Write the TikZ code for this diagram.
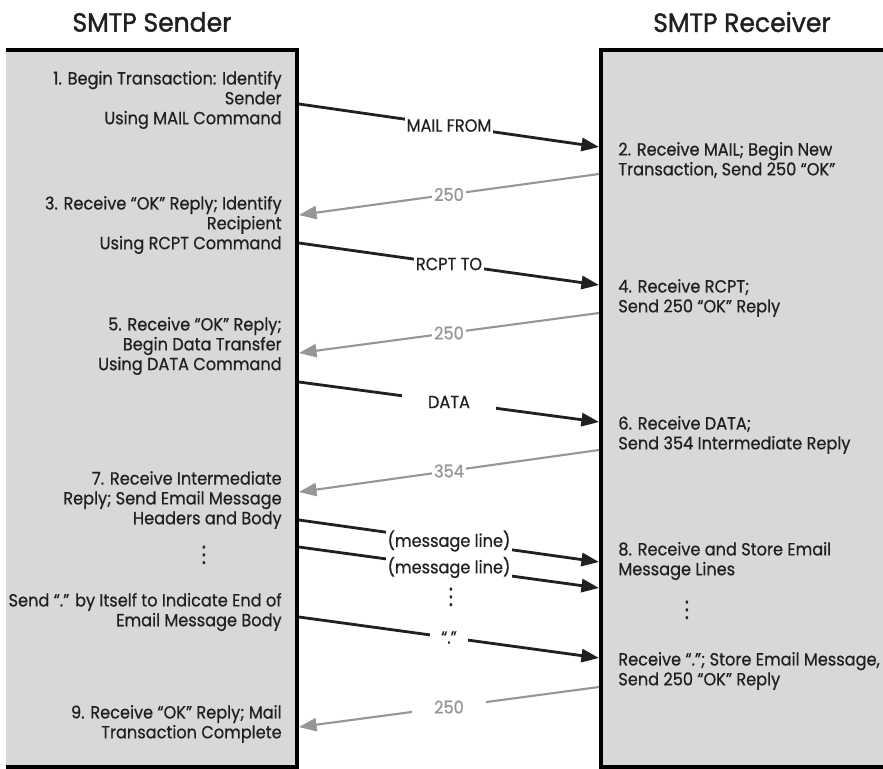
\documentclass[tikz,border=0pt]{standalone}
\usepackage{fontspec}
\setmainfont[FakeStretch=0.92, FakeBold=0.6]{Poppins}
\newfontfamily\titlefont[FakeStretch=0.95, FakeBold=1.4]{Poppins}
\newfontfamily\dotfont{DejaVu Sans}
\usepackage{tikz}
\usetikzlibrary{arrows.meta, positioning}
\definecolor{panelgray}{RGB}{216,216,216}
\definecolor{mydark}{RGB}{32,32,32}
\definecolor{replygray}{RGB}{150,150,150}
\tikzset{
  panel/.style={fill=panelgray, draw=none},
  border/.style={line width=2.2pt, color=black},
  title/.style={font=\titlefont\fontsize{15}{18}\selectfont, text=mydark},
  sendtext/.style={anchor=east, align=right, inner sep=0pt,
    font=\fontsize{10}{11.3}\selectfont, text=mydark},
  recvtext/.style={anchor=west, align=left, inner sep=0pt,
    font=\fontsize{10}{11.3}\selectfont, text=mydark},
  cmdarrow/.style={-{Triangle[length=10pt,width=7.5pt]}, line width=1.6pt, color=mydark},
  replyarrow/.style={-{Triangle[length=10pt,width=7.5pt]}, line width=1.2pt, color=replygray},
  cmdlabel/.style={midway, fill=white, inner xsep=1pt, inner ysep=2pt,
    font=\fontsize{10}{11.3}\selectfont, text=mydark},
  replylabel/.style={midway, fill=white, inner xsep=1pt, inner ysep=2pt,
    font=\fontsize{10}{11.3}\selectfont, text=replygray},
  dots/.style={inner sep=0pt, text=mydark, font=\dotfont\fontsize{13}{13}\selectfont}
}

\begin{document}
\begin{tikzpicture}[x=0.02cm, y=-0.02cm]
  \useasboundingbox (0,0) rectangle (883,768);

  % Panels
  \fill[panel] (6,50) rectangle (297,767);
  \fill[panel] (601,50) rectangle (883,767);
  \draw[border] (6,50) -- (297,50) -- (297,767) -- (6,767);
  \draw[border] (883,50) -- (601,50) -- (601,767) -- (883,767);

  % Titles
  \node[title] (sendtitle) at (152,22) {SMTP Sender};
  \node[title] (recvtitle) at (742,22) {SMTP Receiver};

  % Sender steps
  \node[sendtext] (step1) at (282,100) {1. Begin Transaction: Identify\\Sender\\Using MAIL Command};
  \node[sendtext] (step3) at (282,225) {3. Receive “OK” Reply; Identify\\Recipient\\Using RCPT Command};
  \node[sendtext] (step5) at (282,346) {5. Receive “OK” Reply;\\Begin Data Transfer\\Using DATA Command};
  \node[sendtext] (step7) at (282,500) {7. Receive Intermediate\\Reply; Send Email Message\\Headers and Body};
  \node[dots] (senddots) at (204,555) {⋮};
  \node[sendtext] (stepend) at (282,612) {Send “.” by Itself to Indicate End of\\Email Message Body};
  \node[sendtext] (step9) at (282,724) {9. Receive “OK” Reply; Mail\\Transaction Complete};

  % Receiver steps
  \node[recvtext] (step2) at (618,160) {2. Receive MAIL; Begin New\\Transaction, Send 250 “OK”};
  \node[recvtext] (step4) at (618,298) {4. Receive RCPT;\\Send 250 “OK” Reply};
  \node[recvtext] (step6) at (618,435) {6. Receive DATA;\\Send 354 Intermediate Reply};
  \node[recvtext] (step8) at (618,561) {8. Receive and Store Email\\Message Lines};
  \node[dots] (recvdots) at (687,610) {⋮};
  \node[recvtext] (stepdot) at (618,671) {Receive “.”; Store Email Message,\\Send 250 “OK” Reply};

  % Connection points
  \coordinate (mailS) at (299,104);  \coordinate (mailR) at (599,147);
  \coordinate (ok1R) at (599,174);   \coordinate (ok1S) at (299,215);
  \coordinate (rcptS) at (299,243);  \coordinate (rcptR) at (599,285);
  \coordinate (ok2R) at (599,313);   \coordinate (ok2S) at (299,353);
  \coordinate (dataS) at (299,382);  \coordinate (dataR) at (599,422);
  \coordinate (interR) at (599,450); \coordinate (interS) at (299,492);
  \coordinate (line1S) at (299,520); \coordinate (line1R) at (599,562);
  \coordinate (line2S) at (299,547); \coordinate (line2R) at (599,588);
  \coordinate (endS) at (299,617);   \coordinate (endR) at (599,658);
  \coordinate (ok3R) at (599,687);   \coordinate (ok3S) at (299,727);

  % Commands and replies
  \draw[cmdarrow] (mailS) -- node[cmdlabel] (mailfrom) {MAIL FROM} (mailR);
  \draw[replyarrow] (ok1R) -- node[replylabel] (reply1) {250} (ok1S);
  \draw[cmdarrow] (rcptS) -- node[cmdlabel] (rcptto) {RCPT TO} (rcptR);
  \draw[replyarrow] (ok2R) -- node[replylabel] (reply2) {250} (ok2S);
  \draw[cmdarrow] (dataS) -- node[cmdlabel, minimum width=54pt] (data) {DATA} (dataR);
  \draw[replyarrow] (interR) -- node[replylabel] (reply3) {354} (interS);
  \draw[cmdarrow] (line1S) -- node[cmdlabel] (msg1) {(message line)} (line1R);
  \draw[cmdarrow] (line2S) -- node[cmdlabel] (msg2) {(message line)} (line2R);
  \node[dots] (middots) at (451,597) {⋮};
  \draw[cmdarrow] (endS) -- node[cmdlabel, minimum width=22pt] (enddot) {“.”} (endR);
  \draw[replyarrow] (ok3R) -- node[replylabel, minimum width=42pt] (reply4) {250} (ok3S);

\end{tikzpicture}
\end{document}
